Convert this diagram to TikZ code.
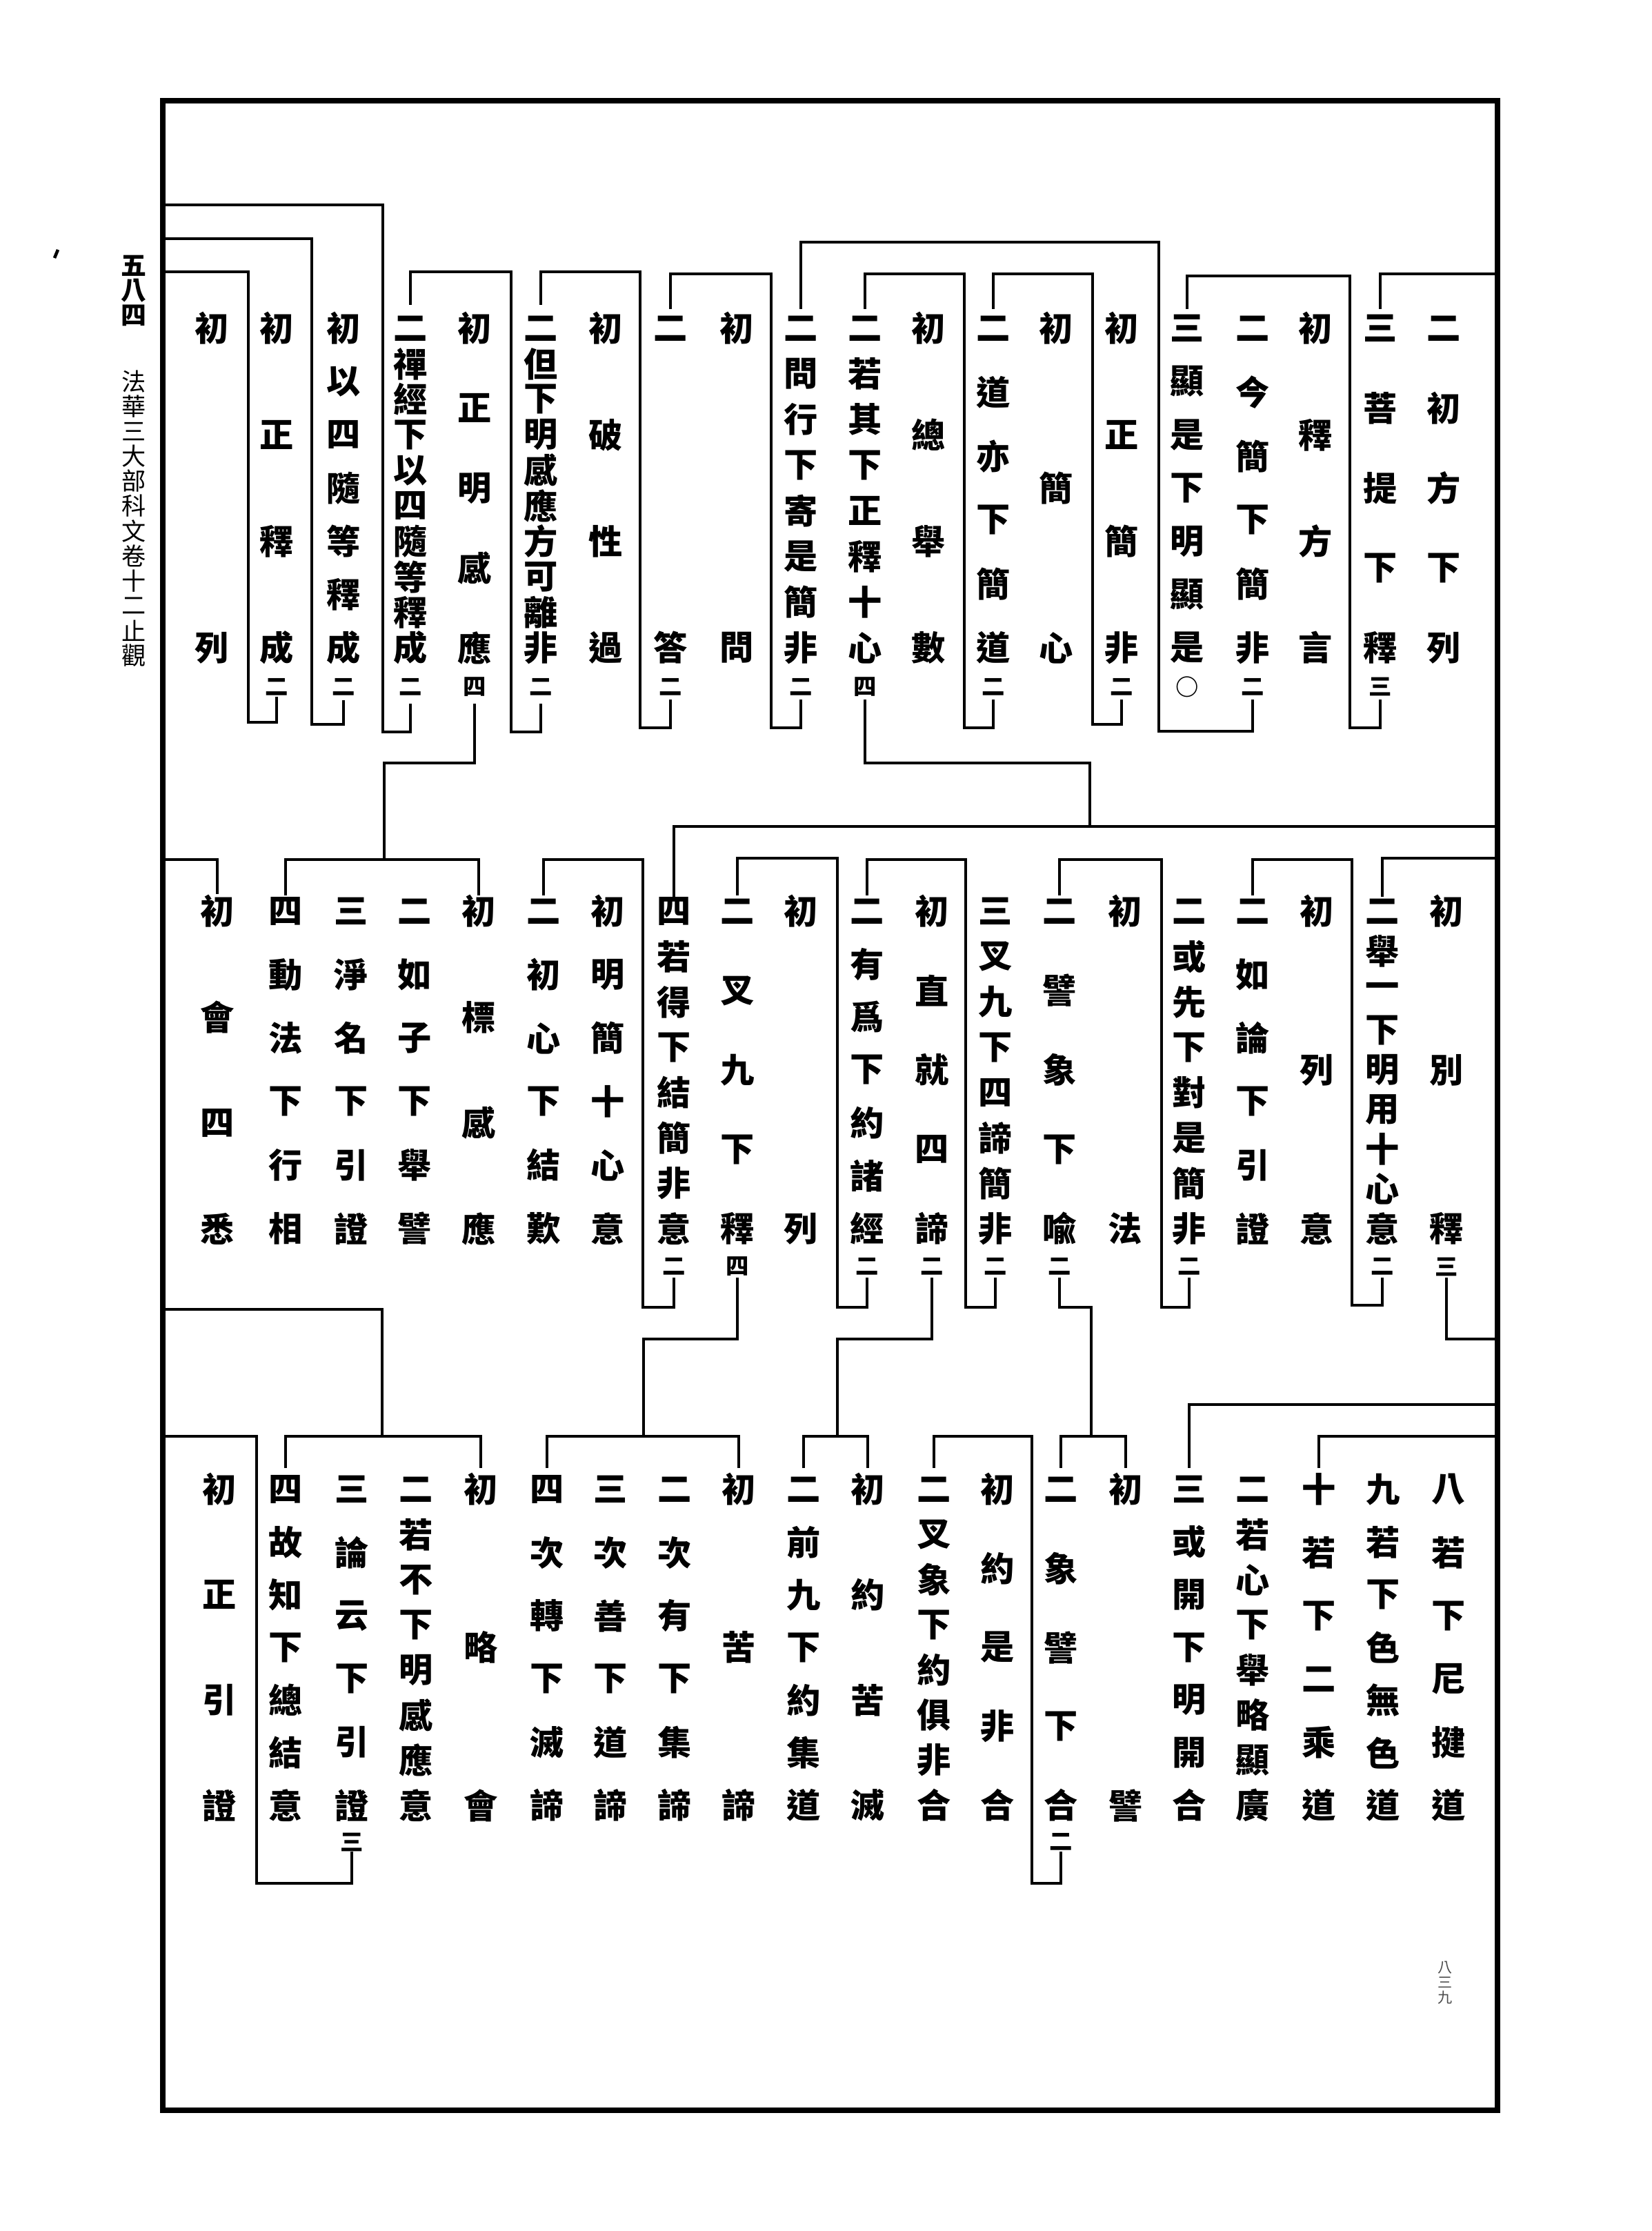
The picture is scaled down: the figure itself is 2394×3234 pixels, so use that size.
\documentclass[tikz,border=0pt]{standalone}
\usepackage{fontspec}
\newfontfamily\kefont{Noto Sans CJK TC}
\usetikzlibrary{calc}
\tikzset{
  kch/.style={font=\kefont\bfseries\fontsize{14pt}{14pt}\selectfont, inner sep=0pt},
  ktr/.style={font=\kefont\bfseries\fontsize{9.5pt}{9.5pt}\selectfont, inner sep=0pt},
  kside/.style={font=\kefont\bfseries\fontsize{10.5pt}{10.5pt}\selectfont, inner sep=0pt},
  ktitle/.style={font=\kefont\fontsize{10pt}{10pt}\selectfont, inner sep=0pt},
  kpage/.style={font=\kefont\fontsize{6pt}{6pt}\selectfont, inner sep=0pt, black!70},
  kline/.style={line width=1pt},
  kframe/.style={line width=2.5pt}
}
% one column of the outline: name, x, (top:bottom:count), characters
\def\kecol(#1,#2)(#3:#4:#5)#6{%
  \coordinate (#1) at (#2,#3);
  \foreach \kc [count=\kn from 0] in {#6}
    \node[kch] (#1-\kn) at (#2,{#3+(#4-#3)*\kn/(#5-1)}) {\kc};
}
% small count under a column
\def\ketr(#1:#2)#3{\node[ktr] (#1t) at (#1 |- 0,#2) {#3};}

\begin{document}
\begin{tikzpicture}[x=0.01cm,y=-0.01cm]
		\useasboundingbox (0,0) rectangle (2394,3234);
		%%%%% FRAME %%%%%
		\draw[kframe] (236,146) rectangle (2171,3059);
		\draw[line width=1.3pt] (79,374) -- (84,362);
		\foreach \kc [count=\kn from 0] in {五,八,四}
			\node[kside] (side-\kn) at (194,{385+36*\kn}) {\kc};
		\foreach \kc [count=\kn from 0] in {法,華,三,大,部,科,文,卷,十,二,止,觀}
			\node[ktitle] (title-\kn) at (194,{553+36.1*\kn}) {\kc};
		\foreach \kc [count=\kn from 0] in {八,三,九}
			\node[kpage] (page-\kn) at (2095,{2852+22*\kn}) {\kc};

		%%%%% ROW 1 %%%%%
		\kecol(a0,2093)(476:939:5){二,初,方,下,列}
		\kecol(a1,2001)(476:939:5){三,菩,提,下,釋}
		\kecol(a2,1907)(476:939:4){初,釋,方,言}
		\kecol(a3,1816)(476:939:6){二,今,簡,下,簡,非}
		\kecol(a4,1721)(476:939:7){三,顯,是,下,明,顯,是}
		\kecol(a5,1626)(476:939:4){初,正,簡,非}
		\kecol(a6,1531)(476:939:3){初,簡,心}
		\kecol(a7,1440)(476:939:6){二,道,亦,下,簡,道}
		\kecol(a8,1346)(476:939:4){初,總,舉,數}
		\kecol(a9,1254)(476:939:8){二,若,其,下,正,釋,十,心}
		\kecol(a10,1161)(476:939:8){二,問,行,下,寄,是,簡,非}
		\kecol(a11,1068)(476:939:2){初,問}
		\kecol(a12,972)(476:939:2){二,答}
		\kecol(a13,878)(476:939:4){初,破,性,過}
		\kecol(a14,784)(476:939:10){二,但,下,明,感,應,方,可,離,非}
		\kecol(a15,688)(476:939:5){初,正,明,感,應}
		\kecol(a16,595)(476:939:10){二,禪,經,下,以,四,隨,等,釋,成}
		\kecol(a17,498)(476:939:7){初,以,四,隨,等,釋,成}
		\kecol(a18,401)(476:939:4){初,正,釋,成}
		\kecol(a19,307)(476:939:2){初,列}
		\ketr(a1:996){三}
		\ketr(a3:996){二}
		\ketr(a4:996){○}
		\ketr(a5:996){二}
		\ketr(a7:996){二}
		\ketr(a9:996){四}
		\ketr(a10:996){二}
		\ketr(a12:996){二}
		\ketr(a14:996){二}
		\ketr(a15:996){四}
		\ketr(a16:996){二}
		\ketr(a17:996){二}
		\ketr(a18:996){二}

		\draw[kline] (2171,397) -- (a1 |- 0,397) -- (a1 |- 0,448);
		\draw[kline] (a1 |- 0,1014) -- (a1 |- 0,1055) -- (1957,1055) -- (1957,400) -- (a4 |- 0,400) -- (a4 |- 0,448);
		\draw[kline] (a3 |- 0,1014) -- (a3 |- 0,1060) -- (1680,1060) -- (1680,351) -- (a10 |- 0,351) -- (a10 |- 0,448);
		\draw[kline] (a5 |- 0,1014) -- (a5 |- 0,1050) -- (1584,1050) -- (1584,397) -- (a7 |- 0,397) -- (a7 |- 0,448);
		\draw[kline] (a7 |- 0,1014) -- (a7 |- 0,1055) -- (1398,1055) -- (1398,397) -- (a9 |- 0,397) -- (a9 |- 0,448);
		\draw[kline] (a10 |- 0,1014) -- (a10 |- 0,1055) -- (1118,1055) -- (1118,397) -- (a12 |- 0,397) -- (a12 |- 0,448);
		\draw[kline] (a12 |- 0,1014) -- (a12 |- 0,1055) -- (928,1055) -- (928,394) -- (a14 |- 0,394) -- (a14 |- 0,442);
		\draw[kline] (a14 |- 0,1020) -- (a14 |- 0,1061) -- (741,1061) -- (741,394) -- (a16 |- 0,394) -- (a16 |- 0,442);
		\draw[kline] (a16 |- 0,1020) -- (a16 |- 0,1061) -- (555,1061) -- (555,297) -- (236,297);
		\draw[kline] (a17 |- 0,1015) -- (a17 |- 0,1050) -- (452,1050) -- (452,346) -- (236,346);
		\draw[kline] (a18 |- 0,1010) -- (a18 |- 0,1047) -- (360,1047) -- (360,394) -- (236,394);

		%%%%% ROW 2 %%%%%
		\kecol(b0,2097)(1321:1781:3){初,別,釋}
		\kecol(b1,2004)(1321:1781:9){二,舉,一,下,明,用,十,心,意}
		\kecol(b2,1909)(1321:1781:3){初,列,意}
		\kecol(b3,1816)(1321:1781:6){二,如,論,下,引,證}
		\kecol(b4,1724)(1321:1781:8){二,或,先,下,對,是,簡,非}
		\kecol(b5,1631)(1321:1781:2){初,法}
		\kecol(b6,1536)(1321:1781:5){二,譬,象,下,喩}
		\kecol(b7,1443)(1321:1781:8){三,叉,九,下,四,諦,簡,非}
		\kecol(b8,1351)(1321:1781:5){初,直,就,四,諦}
		\kecol(b9,1257)(1321:1781:7){二,有,爲,下,約,諸,經}
		\kecol(b10,1161)(1321:1781:2){初,列}
		\kecol(b11,1069)(1321:1781:5){二,叉,九,下,釋}
		\kecol(b12,977)(1321:1781:8){四,若,得,下,結,簡,非,意}
		\kecol(b13,881)(1321:1781:6){初,明,簡,十,心,意}
		\kecol(b14,788)(1321:1781:6){二,初,心,下,結,歎}
		\kecol(b15,694)(1321:1781:4){初,標,感,應}
		\kecol(b16,601)(1321:1781:6){二,如,子,下,舉,譬}
		\kecol(b17,509)(1321:1781:6){三,淨,名,下,引,證}
		\kecol(b18,414)(1321:1781:6){四,動,法,下,行,相}
		\kecol(b19,315)(1321:1781:4){初,會,四,悉}
		\ketr(b0:1836){三}
		\ketr(b1:1836){二}
		\ketr(b4:1836){二}
		\ketr(b6:1836){二}
		\ketr(b7:1836){二}
		\ketr(b8:1836){二}
		\ketr(b9:1836){二}
		\ketr(b11:1836){四}
		\ketr(b12:1836){二}

		\draw[kline] (a9 |- 0,1014) -- (a9 |- 0,1106) -- (1580,1106) -- (1580,1198);
		\draw[kline] (b12 |- 0,1302) -- (b12 |- 0,1198) -- (2171,1198);
		\draw[kline] (a15 |- 0,1020) -- (a15 |- 0,1106) -- (557,1106) -- (557,1246);
		\draw[kline] (b15 |- 0,1298) -- (b15 |- 0,1246) -- (b18 |- 0,1246) -- (b18 |- 0,1298);
		\draw[kline] (2171,1244) -- (b1 |- 0,1244) -- (b1 |- 0,1300);
		\draw[kline] (b0 |- 0,1852) -- (b0 |- 0,1941) -- (2171,1941);
		\draw[kline] (b1 |- 0,1852) -- (b1 |- 0,1892) -- (1960,1892) -- (1960,1246) -- (b3 |- 0,1246) -- (b3 |- 0,1298);
		\draw[kline] (b4 |- 0,1852) -- (b4 |- 0,1895) -- (1684,1895) -- (1684,1246) -- (b6 |- 0,1246) -- (b6 |- 0,1298);
		\draw[kline] (b7 |- 0,1852) -- (b7 |- 0,1895) -- (1400,1895) -- (1400,1246) -- (b9 |- 0,1246) -- (b9 |- 0,1298);
		\draw[kline] (b9 |- 0,1852) -- (b9 |- 0,1895) -- (1214,1895) -- (1214,1244) -- (b11 |- 0,1244) -- (b11 |- 0,1298);
		\draw[kline] (b12 |- 0,1852) -- (b12 |- 0,1895) -- (932,1895) -- (932,1246) -- (b14 |- 0,1246) -- (b14 |- 0,1298);
		\draw[kline] (236,1246) -- (b19 |- 0,1246) -- (b19 |- 0,1296);

		%%%%% ROW 3 %%%%%
		\kecol(c0,2100)(2159:2617:6){八,若,下,尼,揵,道}
		\kecol(c1,2005)(2159:2617:7){九,若,下,色,無,色,道}
		\kecol(c2,1912)(2159:2617:6){十,若,下,二,乘,道}
		\kecol(c3,1816)(2159:2617:8){二,若,心,下,舉,略,顯,廣}
		\kecol(c4,1724)(2159:2617:7){三,或,開,下,明,開,合}
		\kecol(c5,1632)(2159:2617:2){初,譬}
		\kecol(c6,1538)(2159:2617:5){二,象,譬,下,合}
		\kecol(c7,1446)(2159:2617:5){初,約,是,非,合}
		\kecol(c8,1354)(2159:2617:8){二,叉,象,下,約,俱,非,合}
		\kecol(c9,1258)(2159:2617:4){初,約,苦,滅}
		\kecol(c10,1165)(2159:2617:7){二,前,九,下,約,集,道}
		\kecol(c11,1071)(2159:2617:3){初,苦,諦}
		\kecol(c12,978)(2159:2617:6){二,次,有,下,集,諦}
		\kecol(c13,885)(2159:2617:6){三,次,善,下,道,諦}
		\kecol(c14,793)(2159:2617:6){四,次,轉,下,滅,諦}
		\kecol(c15,697)(2159:2617:3){初,略,會}
		\kecol(c16,603)(2159:2617:8){二,若,不,下,明,感,應,意}
		\kecol(c17,510)(2159:2617:6){三,論,云,下,引,證}
		\kecol(c18,414)(2159:2617:7){四,故,知,下,總,結,意}
		\kecol(c19,318)(2159:2617:4){初,正,引,證}
		\ketr(c6:2670){二}
		\ketr(c17:2670){三}

		\draw[kline] (b6 |- 0,1852) -- (b6 |- 0,1895) -- (1582,1895) -- (1582,2082);
		\draw[kline] (c6 |- 0,2128) -- (c6 |- 0,2082) -- (c5 |- 0,2082) -- (c5 |- 0,2128);
		\draw[kline] (b8 |- 0,1852) -- (b8 |- 0,1941) -- (1214,1941) -- (1214,2082);
		\draw[kline] (c10 |- 0,2128) -- (c10 |- 0,2082) -- (c9 |- 0,2082) -- (c9 |- 0,2128);
		\draw[kline] (b11 |- 0,1852) -- (b11 |- 0,1941) -- (933,1941) -- (933,2082);
		\draw[kline] (c14 |- 0,2128) -- (c14 |- 0,2082) -- (c11 |- 0,2082) -- (c11 |- 0,2128);
		\draw[kline] (236,1898) -- (554,1898) -- (554,2082);
		\draw[kline] (c18 |- 0,2128) -- (c18 |- 0,2082) -- (c15 |- 0,2082) -- (c15 |- 0,2128);
		\draw[kline] (2171,2036) -- (c4 |- 0,2036) -- (c4 |- 0,2128);
		\draw[kline] (2171,2082) -- (c2 |- 0,2082) -- (c2 |- 0,2128);
		\draw[kline] (c6 |- 0,2684) -- (c6 |- 0,2730) -- (1496,2730) -- (1496,2082) -- (c8 |- 0,2082) -- (c8 |- 0,2128);
		\draw[kline] (c17 |- 0,2684) -- (c17 |- 0,2730) -- (372,2730) -- (372,2082) -- (236,2082);
	\end{tikzpicture}
\end{document}
